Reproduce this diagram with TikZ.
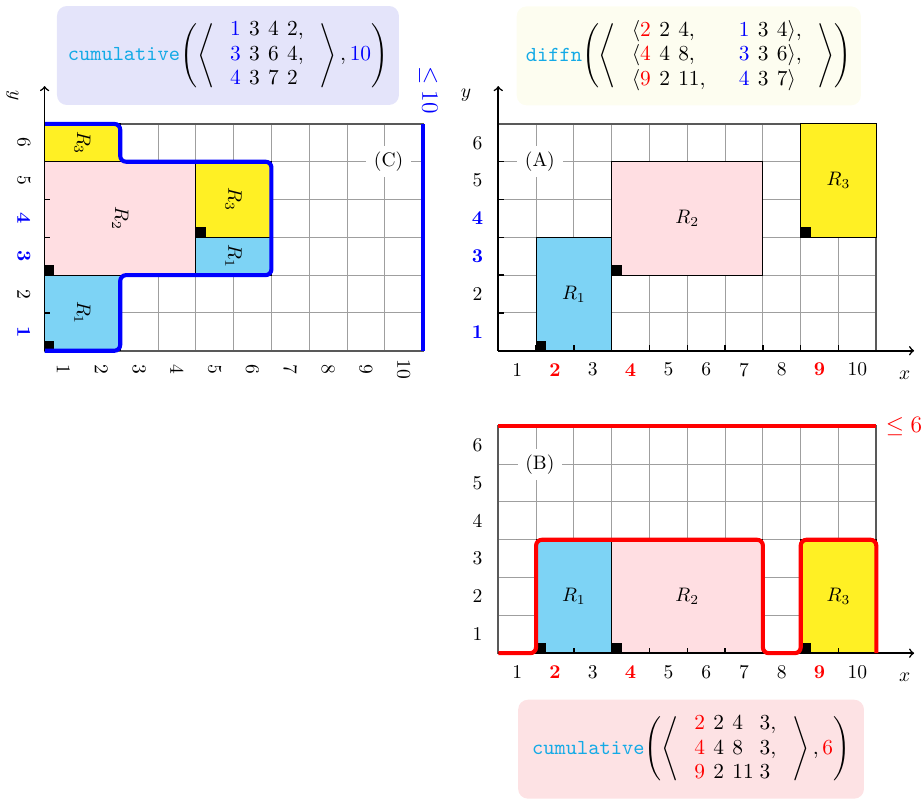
\documentclass[tikz,border=0pt]{standalone}
\usepackage{amsmath}
\usetikzlibrary{positioning}

\definecolor{rone}{RGB}{125,211,245}
\definecolor{rtwo}{RGB}{255,222,226}
\definecolor{rthree}{RGB}{255,240,36}
\definecolor{ctrcol}{RGB}{20,170,230}
\definecolor{bgcumu}{RGB}{228,228,250}
\definecolor{bgdiffn}{RGB}{253,253,240}
\definecolor{bgcumured}{RGB}{253,226,228}
\newcommand{\bl}[1]{{\color{blue}#1}}
\newcommand{\rd}[1]{{\color{red}#1}}
\newcommand{\hx}[1]{\textbf{\color{red}#1}}
\newcommand{\hy}[1]{\textbf{\color{blue}#1}}
\newcommand{\dg}{\mkern7mu}
\newcommand{\ctrfont}{\fontsize{10.95}{12.5}\selectfont
  \delimiterfactor=850\relax\delimitershortfall=8pt\relax}

\begin{document}
\begin{tikzpicture}[x=0.68cm,y=0.68cm,
    gridl/.style={gray!75,line width=0.5pt,step=1},
    frame/.style={gray!70!black,line width=1pt},
    task/.style={draw=black,line width=0.5pt},
    rlab/.style={},
    panel/.style={fill=white,inner xsep=4pt,inner ysep=3pt},
    profile/.style={line width=2.1pt,rounded corners=3pt},
    ctrbox/.style={rounded corners=5pt,minimum height=1.78cm,inner sep=3pt,font=\ctrfont}]
\useasboundingbox (-13.18,-11.886) rectangle (11.235,9.278);

% (A) the diffn placement
\draw[gridl] (0,0) grid (10,6);
\draw[frame] (0,6) -- (10,6) -- (10,0);
\filldraw[task,fill=rone] (1,0) rectangle (3,3);
\filldraw[task,fill=rtwo] (3,2) rectangle (7,5);
\filldraw[task,fill=rthree] (8,3) rectangle (10,6);
\foreach \px/\py in {1/0,3/2,8/3}
  \fill (\px,\py) rectangle +(0.26,0.26);
\node[rlab] (a1) at (2,1.5) {$R_1$};
\node[rlab] (a2) at (5,3.5) {$R_2$};
\node[rlab] (a3) at (9,4.5) {$R_3$};
\foreach \x in {1,...,9} \draw[thick] (\x,0) -- (\x,0.15);
\foreach \y in {1,...,5} \draw[thick] (0,\y) -- (0.15,\y);
\draw[thick,->] (0,0) -- (11,0);
\draw[thick,->] (0,0) -- (0,7);
\node (ax) at (10.75,-0.65) {$x$};
\node (ay) at (-0.85,6.75) {$y$};
\foreach \x/\lab in {1/1,2/\hx{2},3/3,4/\hx{4},5/5,6/6,7/7,8/8,9/\hx{9},10/10}
  \node at (\x-0.5,-0.5) {\lab};
\foreach \y/\lab in {1/\hy{1},2/2,3/\hy{3},4/\hy{4},5/5,6/6}
  \node at (-0.55,\y-0.5) {\lab};
\node[panel] (tagA) at (1.1,5) {(A)};

% (B) the cumulative profile on x
\begin{scope}[shift={(0,-8)}]
\draw[gridl] (0,0) grid (10,6);
\draw[frame] (0,0) rectangle (10,6);
\filldraw[task,fill=rone] (1,0) rectangle (3,3);
\filldraw[task,fill=rtwo] (3,0) rectangle (7,3);
\filldraw[task,fill=rthree] (8,0) rectangle (10,3);
\foreach \px in {1,3,8}
  \fill (\px,0) rectangle +(0.26,0.26);
\node[rlab] (b1) at (2,1.5) {$R_1$};
\node[rlab] (b2) at (5,1.5) {$R_2$};
\node[rlab] (b3) at (9,1.5) {$R_3$};
\foreach \x in {1,...,9} \draw[thick] (\x,0) -- (\x,0.15);
\draw[thick,->] (0,0) -- (11,0);
\draw[profile,red] (0,0) -- (1,0) -- (1,3) -- (7,3) -- (7,0) -- (8,0) -- (8,3) -- (10,3) -- (10,0);
\draw[profile,red] (0,6) -- (10,6);
\node[text=red,font=\large] (capB) at (10.73,6) {$\leq 6$};
\node (bx) at (10.75,-0.65) {$x$};
\foreach \x/\lab in {1/1,2/\hx{2},3/3,4/\hx{4},5/5,6/6,7/7,8/8,9/\hx{9},10/10}
  \node at (\x-0.5,-0.5) {\lab};
\foreach \y in {1,...,6}
  \node at (-0.55,\y-0.5) {\y};
\node[panel] (tagB) at (1.1,5) {(B)};
\end{scope}

% (C) the cumulative profile on y, turned
\begin{scope}[shift={(-12,0)}]
\draw[gridl] (0,0) grid (10,6);
\draw[frame] (0,0) rectangle (10,6);
\filldraw[task,fill=rone] (0,0) rectangle (2,2);
\filldraw[task,fill=rtwo] (0,2) rectangle (4,5);
\filldraw[task,fill=rone] (4,2) rectangle (6,3);
\filldraw[task,fill=rthree] (4,3) rectangle (6,5);
\filldraw[task,fill=rthree] (0,5) rectangle (2,6);
\foreach \px/\py in {0/0,0/2,4/3}
  \fill (\px,\py) rectangle +(0.26,0.26);
\node[rlab,rotate=-90] (c1) at (1,1) {$R_1$};
\node[rlab,rotate=-90] (c2) at (2,3.5) {$R_2$};
\node[rlab,rotate=-90] (c4) at (5,2.5) {$R_1$};
\node[rlab,rotate=-90] (c3) at (5,4) {$R_3$};
\node[rlab,rotate=-90] (c5) at (1,5.5) {$R_3$};
\draw[profile,blue] (0,6) -- (2,6) -- (2,5) -- (6,5) -- (6,2) -- (2,2) -- (2,0) -- (0,0);
\draw[profile,blue] (10,0) -- (10,6);
\foreach \y in {1,...,5} \draw[thick] (0,\y) -- (0.15,\y);
\draw[thick,->] (0,0) -- (0,7);
\node[rotate=-90] (cy) at (-0.85,6.75) {$y$};
\foreach \x in {1,...,10}
  \node[rotate=-90] at (\x-0.5,-0.5) {\x};
\foreach \y/\lab in {1/\hy{1},2/2,3/\hy{3},4/\hy{4},5/5,6/6}
  \node[rotate=-90] at (-0.55,\y-0.5) {\lab};
\node[panel] (tagC) at (9.1,5) {(C)};
\node[text=blue,font=\large,rotate=-90] (capC) at (10.15,6.9) {$\leq 10$};
\end{scope}

% the constraints
\node[ctrbox,fill=bgcumu,minimum width=6.15cm] (cumuC) at (-7.15,7.81)
  {{\ttfamily\color{ctrcol}cumulative}$\left(\left\langle\;\begin{array}{l}
  \bl{1}\dg3\dg4\dg2,\\ \bl{3}\dg3\dg6\dg4,\\ \bl{4}\dg3\dg7\dg2
  \end{array}\;\right\rangle,\bl{10}\right)$};
\node[ctrbox,fill=bgdiffn,minimum width=6.19cm] (diffnA) at (5.04,7.8)
  {{\ttfamily\color{ctrcol}diffn}$\left(\left\langle\;\begin{array}{l@{\hspace{17pt}}l}
  \langle\rd{2}\dg2\dg4, & \bl{1}\dg3\dg4\rangle,\\
  \langle\rd{4}\dg4\dg8, & \bl{3}\dg3\dg6\rangle,\\
  \langle\rd{9}\dg2\dg11, & \bl{4}\dg3\dg7\rangle
  \end{array}\;\right\rangle\right)$};
\node[ctrbox,fill=bgcumured,minimum width=6.22cm] (cumuB) at (5.1,-10.54)
  {{\ttfamily\color{ctrcol}cumulative}$\left(\left\langle\;\begin{array}{l@{\hspace{3pt}}l}
  \rd{2}\dg2\dg4 & 3,\\ \rd{4}\dg4\dg8 & 3,\\ \rd{9}\dg2\dg11 & 3
  \end{array}\;\right\rangle,\rd{6}\right)$};
\end{tikzpicture}
\end{document}
